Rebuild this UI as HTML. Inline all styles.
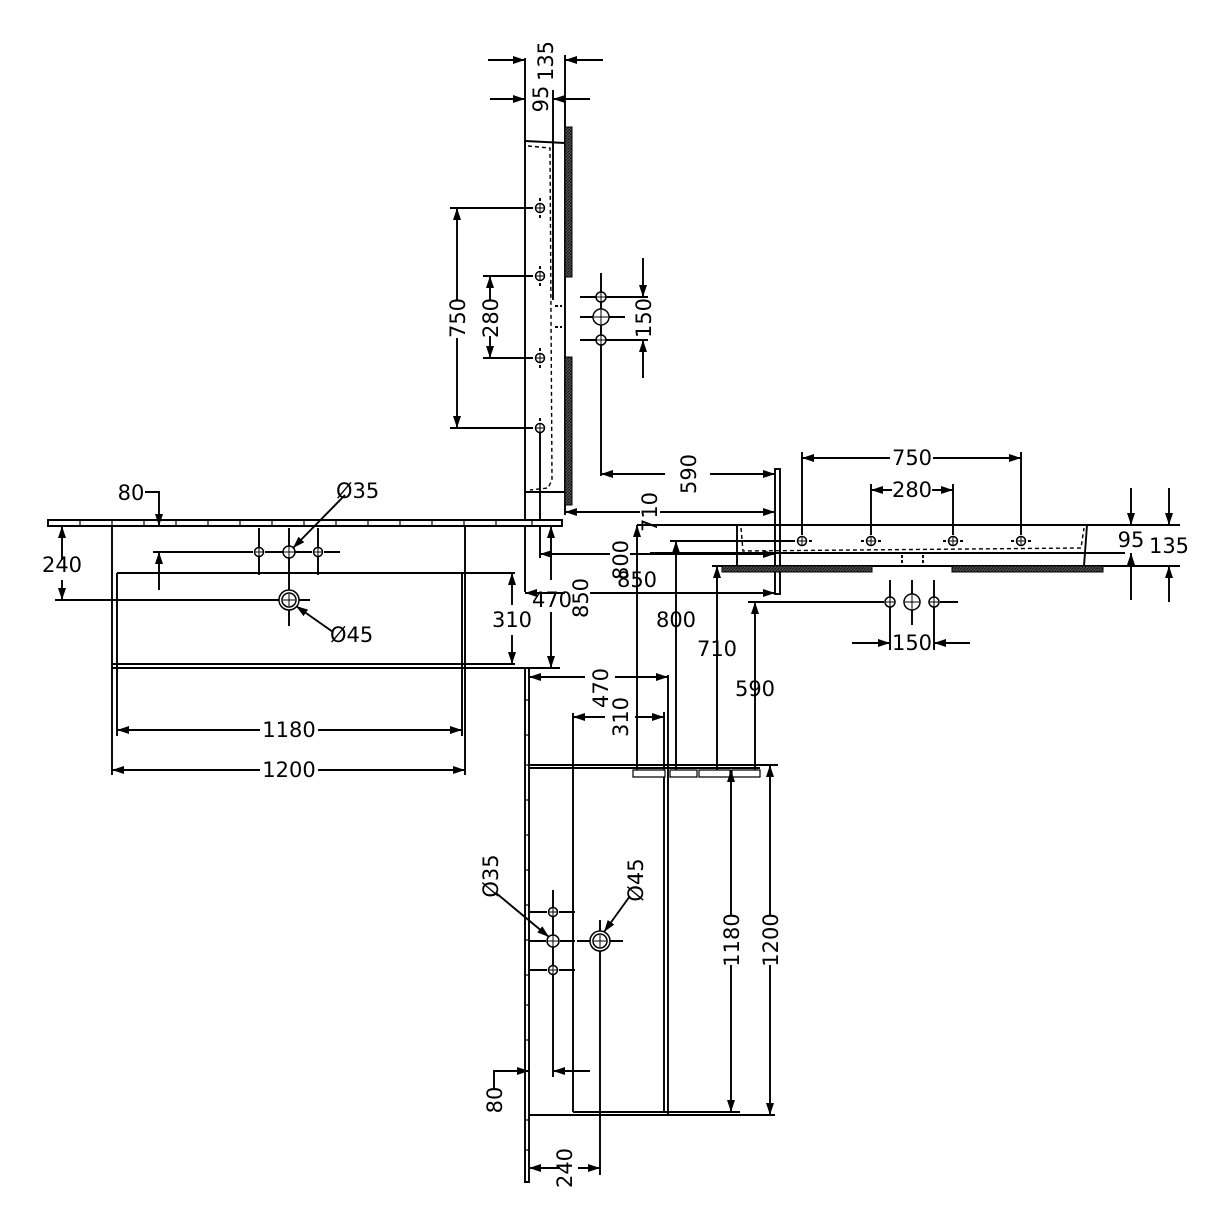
<!DOCTYPE html>
<html><head><meta charset="utf-8"><style>
html,body{margin:0;padding:0;background:#fff}
svg{display:block}
text{font-family:"DejaVu Sans","Liberation Sans",sans-serif;font-size:21px;fill:#000}
</style></head><body>
<svg width="1231" height="1231" viewBox="0 0 1231 1231" xmlns="http://www.w3.org/2000/svg">
<defs>
<marker id="a" viewBox="0 0 12 8" refX="12" refY="4" markerWidth="12" markerHeight="8" markerUnits="userSpaceOnUse" orient="auto"><path d="M0,0L12,4L0,8z"/></marker>
<pattern id="h" width="3" height="3" patternUnits="userSpaceOnUse"><rect width="3" height="3" fill="#555"/><path d="M0,3L3,0" stroke="#111" stroke-width="1"/></pattern>
</defs>
<g stroke="#000" stroke-width="1.9" fill="none">
<!-- TOP SIDE SECTION -->
<line x1="525" y1="58" x2="525" y2="592"/>
<line x1="540" y1="428" x2="540" y2="558"/>
<line x1="553" y1="90" x2="553" y2="300"/>
<line x1="565" y1="55" x2="565" y2="515"/>
<line x1="525" y1="141" x2="565" y2="143"/>
<line x1="525" y1="492" x2="565" y2="492"/>
<path d="M528,146 L550,148 L552,480 L548,488 L530,490" stroke-dasharray="4,3" stroke-width="1.4"/>
<line x1="555" y1="306" x2="562" y2="306" stroke-dasharray="3,2"/>
<line x1="555" y1="327" x2="562" y2="327" stroke-dasharray="3,2"/>
<rect x="565" y="127" width="7" height="150" fill="url(#h)" stroke-width="1"/>
<rect x="565" y="357" width="7" height="148" fill="url(#h)" stroke-width="1"/>
<line x1="488" y1="60" x2="525" y2="60" marker-end="url(#a)"/>
<line x1="603" y1="60" x2="565" y2="60" marker-end="url(#a)"/>
<line x1="490" y1="99" x2="525" y2="99" marker-end="url(#a)"/>
<line x1="590" y1="99" x2="553" y2="99" marker-end="url(#a)"/>
<line x1="450" y1="208" x2="533" y2="208"/>
<line x1="450" y1="428" x2="533" y2="428"/>
<line x1="483" y1="276" x2="533" y2="276"/>
<line x1="483" y1="358" x2="533" y2="358"/>
<line x1="457" y1="300" x2="457" y2="208" marker-end="url(#a)"/>
<line x1="457" y1="338" x2="457" y2="428" marker-end="url(#a)"/>
<line x1="490" y1="300" x2="490" y2="276" marker-end="url(#a)"/>
<line x1="490" y1="336" x2="490" y2="358" marker-end="url(#a)"/>
<path d="M540,198v3M540,215v3M540,266v3M540,283v3M540,348v3M540,365v3M540,418v3"/>
<line x1="601" y1="273" x2="601" y2="476"/>
<line x1="580" y1="297" x2="648" y2="297"/>
<line x1="580" y1="317" x2="625" y2="317"/>
<line x1="580" y1="340" x2="648" y2="340"/>
<line x1="643" y1="258" x2="643" y2="297" marker-end="url(#a)"/>
<line x1="643" y1="378" x2="643" y2="340" marker-end="url(#a)"/>
<line x1="665" y1="474" x2="601" y2="474" marker-end="url(#a)"/>
<line x1="710" y1="474" x2="775" y2="474" marker-end="url(#a)"/>
<line x1="640" y1="512" x2="565" y2="512" marker-end="url(#a)"/>
<line x1="660" y1="512" x2="775" y2="512" marker-end="url(#a)"/>
<line x1="610" y1="554" x2="540" y2="554" marker-end="url(#a)"/>
<line x1="630" y1="554" x2="775" y2="554" marker-end="url(#a)"/>
<line x1="565" y1="593" x2="525" y2="593" marker-end="url(#a)"/>
<line x1="590" y1="593" x2="775" y2="593" marker-end="url(#a)"/>
<rect x="775" y="469" width="5" height="125" fill="#fff"/>
<path d="M48,520 H562 V526 H48 Z" fill="#fff"/>
<path d="M80,520V526M112,520V526M144,520V526M176,520V526M208,520V526M240,520V526M272,520V526M304,520V526M336,520V526M368,520V526M400,520V526M432,520V526M464,520V526M496,520V526M532,520V526" stroke-width="1.2"/>
<!-- FRONT VIEW LEFT -->
<line x1="112" y1="526" x2="112" y2="775"/>
<line x1="465" y1="526" x2="465" y2="775"/>
<line x1="117" y1="573" x2="117" y2="736"/>
<line x1="462" y1="573" x2="462" y2="736"/>
<line x1="117" y1="573" x2="515" y2="573"/>
<line x1="112" y1="664" x2="515" y2="664"/>
<line x1="112" y1="668" x2="560" y2="668"/>
<line x1="260" y1="730" x2="117" y2="730" marker-end="url(#a)"/>
<line x1="318" y1="730" x2="462" y2="730" marker-end="url(#a)"/>
<line x1="260" y1="770" x2="112" y2="770" marker-end="url(#a)"/>
<line x1="318" y1="770" x2="465" y2="770" marker-end="url(#a)"/>
<path d="M153,552H253M265,552H283M295,552H312M324,552H340"/>
<line x1="259" y1="528" x2="259" y2="575"/>
<line x1="318" y1="528" x2="318" y2="575"/>
<line x1="289" y1="528" x2="289" y2="626"/>
<line x1="55" y1="600" x2="310" y2="600"/>
<line x1="62" y1="560" x2="62" y2="526" marker-end="url(#a)"/>
<line x1="62" y1="580" x2="62" y2="600" marker-end="url(#a)"/>
<path d="M145,492H159V526" marker-end="url(#a)"/>
<line x1="159" y1="590" x2="159" y2="552" marker-end="url(#a)"/>
<line x1="345" y1="495" x2="293" y2="548" marker-end="url(#a)"/>
<line x1="333" y1="632" x2="296" y2="606" marker-end="url(#a)"/>
<line x1="512" y1="605" x2="512" y2="573" marker-end="url(#a)"/>
<line x1="512" y1="635" x2="512" y2="664" marker-end="url(#a)"/>
<line x1="551" y1="580" x2="551" y2="526" marker-end="url(#a)"/>
<line x1="551" y1="612" x2="551" y2="668" marker-end="url(#a)"/>
<line x1="637" y1="770" x2="637" y2="525" marker-end="url(#a)"/>
<line x1="676" y1="770" x2="676" y2="541" marker-end="url(#a)"/>
<line x1="717" y1="770" x2="717" y2="566" marker-end="url(#a)"/>
<line x1="755" y1="770" x2="755" y2="602" marker-end="url(#a)"/>
<line x1="670" y1="541" x2="795" y2="541"/>
<line x1="712" y1="566" x2="1180" y2="566"/>
<line x1="748" y1="602" x2="884" y2="602"/>
<!-- RIGHT SIDE SECTION -->
<line x1="637" y1="525" x2="1180" y2="525"/>
<line x1="650" y1="553" x2="1125" y2="553"/>
<line x1="737" y1="525" x2="737" y2="566"/>
<line x1="1087" y1="525" x2="1084" y2="566"/>
<path d="M741,528 L743,551 L1081,548 L1084,528" stroke-dasharray="4,3" stroke-width="1.4"/>
<line x1="902" y1="555" x2="902" y2="565" stroke-dasharray="3,2"/>
<line x1="923" y1="555" x2="923" y2="565" stroke-dasharray="3,2"/>
<rect x="722" y="566" width="150" height="6" fill="url(#h)" stroke-width="1"/>
<rect x="952" y="566" width="151" height="6" fill="url(#h)" stroke-width="1"/>
<line x1="802" y1="452" x2="802" y2="535"/>
<line x1="1021" y1="452" x2="1021" y2="535"/>
<line x1="871" y1="484" x2="871" y2="535"/>
<line x1="953" y1="484" x2="953" y2="535"/>
<line x1="890" y1="458" x2="802" y2="458" marker-end="url(#a)"/>
<line x1="933" y1="458" x2="1021" y2="458" marker-end="url(#a)"/>
<line x1="892" y1="490" x2="871" y2="490" marker-end="url(#a)"/>
<line x1="932" y1="490" x2="953" y2="490" marker-end="url(#a)"/>
<path d="M792,541H795M809,541H812M861,541H864M878,541H881M943,541H946M960,541H963M1011,541H1014M1028,541H1031"/>
<line x1="1131" y1="488" x2="1131" y2="525" marker-end="url(#a)"/>
<line x1="1131" y1="600" x2="1131" y2="553" marker-end="url(#a)"/>
<line x1="1169" y1="488" x2="1169" y2="525" marker-end="url(#a)"/>
<line x1="1169" y1="602" x2="1169" y2="566" marker-end="url(#a)"/>
<line x1="890" y1="580" x2="890" y2="650"/>
<line x1="934" y1="580" x2="934" y2="650"/>
<line x1="912" y1="580" x2="912" y2="625"/>
<line x1="940" y1="602" x2="958" y2="602"/>
<line x1="852" y1="643" x2="890" y2="643" marker-end="url(#a)"/>
<line x1="970" y1="643" x2="934" y2="643" marker-end="url(#a)"/>
<!-- LOWER PLAN VIEW -->
<path d="M525,668H529V1182H525Z" fill="#fff"/>
<path d="M525,700H529M525,735H529M525,765H529M525,800H529M525,835H529M525,870H529M525,905H529M525,940H529M525,975H529M525,1005H529M525,1040H529M525,1120H529M525,1150H529" stroke-width="1.2"/>
<line x1="529" y1="765" x2="778" y2="765"/>
<line x1="529" y1="768" x2="760" y2="768"/>
<line x1="529" y1="1115" x2="775" y2="1115"/>
<line x1="573" y1="713" x2="573" y2="1112"/>
<line x1="573" y1="1112" x2="740" y2="1112"/>
<line x1="664" y1="712" x2="664" y2="1112"/>
<line x1="668" y1="675" x2="668" y2="1115"/>
<path d="M633,770H665V777H633ZM670,770H697V777H670ZM699,770H730V777H699ZM732,770H760V777H732Z" fill="#fff" stroke-width="1.2"/>
<line x1="585" y1="677" x2="529" y2="677" marker-end="url(#a)"/>
<line x1="615" y1="677" x2="668" y2="677" marker-end="url(#a)"/>
<line x1="605" y1="717" x2="573" y2="717" marker-end="url(#a)"/>
<line x1="635" y1="717" x2="664" y2="717" marker-end="url(#a)"/>
<line x1="731" y1="915" x2="731" y2="770" marker-end="url(#a)"/>
<line x1="731" y1="965" x2="731" y2="1112" marker-end="url(#a)"/>
<line x1="770" y1="915" x2="770" y2="765" marker-end="url(#a)"/>
<line x1="770" y1="965" x2="770" y2="1115" marker-end="url(#a)"/>
<line x1="553" y1="890" x2="553" y2="1077"/>
<path d="M530,912H547M559,912H575M530,941H546M560,941H575M530,970H547M559,970H575"/>
<line x1="577" y1="941" x2="623" y2="941"/>
<line x1="600" y1="920" x2="600" y2="1175"/>
<path d="M494,1088V1071H529" marker-end="url(#a)"/>
<line x1="590" y1="1071" x2="553" y2="1071" marker-end="url(#a)"/>
<line x1="560" y1="1168" x2="529" y2="1168" marker-end="url(#a)"/>
<line x1="578" y1="1168" x2="600" y2="1168" marker-end="url(#a)"/>
<line x1="496" y1="893" x2="549" y2="937" marker-end="url(#a)"/>
<line x1="630" y1="896" x2="604" y2="932" marker-end="url(#a)"/>
</g>
<g stroke="#000" stroke-width="1.5" fill="#fff">
<circle cx="540" cy="208" r="4.5"/><circle cx="540" cy="276" r="4.5"/><circle cx="540" cy="358" r="4.5"/><circle cx="540" cy="428" r="4.5"/>
<circle cx="601" cy="297" r="5"/><circle cx="601" cy="317" r="8"/><circle cx="601" cy="340" r="5"/>
<circle cx="259" cy="552" r="4.5"/><circle cx="289" cy="552" r="6"/><circle cx="318" cy="552" r="4.5"/>
<circle cx="289" cy="600" r="10"/><circle cx="289" cy="600" r="7"/>
<circle cx="802" cy="541" r="4.5"/><circle cx="871" cy="541" r="4.5"/><circle cx="953" cy="541" r="4.5"/><circle cx="1021" cy="541" r="4.5"/>
<circle cx="890" cy="602" r="5"/><circle cx="912" cy="602" r="8"/><circle cx="934" cy="602" r="5"/>
<circle cx="553" cy="912" r="4.5"/><circle cx="553" cy="941" r="6"/><circle cx="553" cy="970" r="4.5"/>
<circle cx="600" cy="941" r="10"/><circle cx="600" cy="941" r="7"/>
</g>
<g stroke="#000" stroke-width="1">
<path d="M535,208h10M540,203v10M535,276h10M540,271v10M535,358h10M540,353v10M535,428h10M540,423v10"/>
<path d="M596,297h10M601,292v10M594,317h14M601,310v14M596,340h10M601,335v10"/>
<path d="M254,552h10M259,547v10M283,552h12M289,546v12M313,552h10M318,547v10M283,600h12M289,594v12"/>
<path d="M797,541h10M802,536v10M866,541h10M871,536v10M948,541h10M953,536v10M1016,541h10M1021,536v10"/>
<path d="M885,602h10M890,597v10M905,602h14M912,595v14M929,602h10M934,597v10"/>
<path d="M548,912h10M553,907v10M547,941h12M553,935v12M548,970h10M553,965v10M594,941h12M600,935v12"/>
</g>
<g>
<text transform="translate(553,61) rotate(-90)" text-anchor="middle">135</text>
<text transform="translate(548,99) rotate(-90)" text-anchor="middle">95</text>
<text transform="translate(465,318) rotate(-90)" text-anchor="middle">750</text>
<text transform="translate(498,318) rotate(-90)" text-anchor="middle">280</text>
<text transform="translate(651,318) rotate(-90)" text-anchor="middle">150</text>
<text transform="translate(696,474) rotate(-90)" text-anchor="middle">590</text>
<text transform="translate(657,512) rotate(-90)" text-anchor="middle">710</text>
<text transform="translate(628,560) rotate(-90)" text-anchor="middle">800</text>
<text transform="translate(588,598) rotate(-90)" text-anchor="middle">850</text>
<text x="552" y="607" text-anchor="middle">470</text>
<text x="637" y="587" text-anchor="middle">850</text>
<text x="676" y="627" text-anchor="middle">800</text>
<text x="717" y="656" text-anchor="middle">710</text>
<text x="755" y="696" text-anchor="middle">590</text>
<text x="512" y="627" text-anchor="middle">310</text>
<text x="62" y="572" text-anchor="middle">240</text>
<text x="131" y="500" text-anchor="middle">80</text>
<text x="336" y="498">Ø35</text>
<text x="330" y="642">Ø45</text>
<text x="289" y="737" text-anchor="middle">1180</text>
<text x="289" y="777" text-anchor="middle">1200</text>
<text x="912" y="465" text-anchor="middle">750</text>
<text x="912" y="497" text-anchor="middle">280</text>
<text x="1131" y="547" text-anchor="middle">95</text>
<text x="1169" y="553" text-anchor="middle">135</text>
<text x="912" y="650" text-anchor="middle">150</text>
<text transform="translate(608,688) rotate(-90)" text-anchor="middle">470</text>
<text transform="translate(628,717) rotate(-90)" text-anchor="middle">310</text>
<text transform="translate(739,940) rotate(-90)" text-anchor="middle">1180</text>
<text transform="translate(778,940) rotate(-90)" text-anchor="middle">1200</text>
<text transform="translate(502,1100) rotate(-90)" text-anchor="middle">80</text>
<text transform="translate(572,1168) rotate(-90)" text-anchor="middle">240</text>
<text transform="translate(498,876) rotate(-90)" text-anchor="middle">Ø35</text>
<text transform="translate(643,880) rotate(-90)" text-anchor="middle">Ø45</text>
</g>
</svg>
</body></html>
